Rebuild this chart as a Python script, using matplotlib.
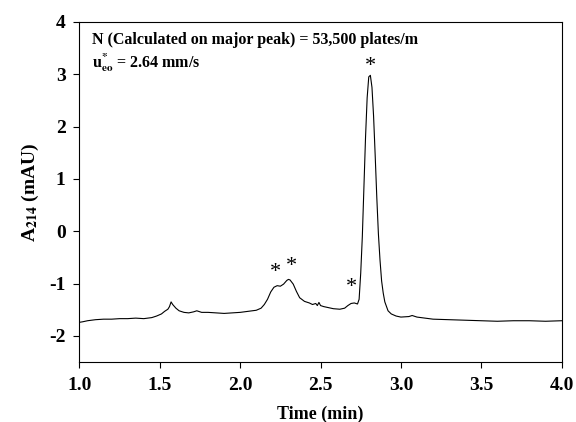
import matplotlib
matplotlib.use('Agg')
import matplotlib.pyplot as plt

# electropherogram trace
time_min = [1.00, 1.02, 1.05, 1.10, 1.15, 1.20, 1.25, 1.30, 1.35, 1.40, 1.45, 1.48,
            1.51, 1.53, 1.55, 1.56, 1.57, 1.58, 1.60, 1.62, 1.65, 1.68, 1.71, 1.73,
            1.76, 1.80, 1.85, 1.90, 1.95, 2.00, 2.05, 2.10, 2.13, 2.15, 2.17, 2.19,
            2.21, 2.23, 2.25, 2.27, 2.29, 2.30, 2.31, 2.33, 2.35, 2.37, 2.40, 2.43,
            2.45, 2.47, 2.48, 2.49, 2.50, 2.52, 2.55, 2.58, 2.62, 2.65, 2.67, 2.69,
            2.71, 2.73, 2.74, 2.75, 2.76, 2.77, 2.78, 2.79, 2.80, 2.81, 2.82, 2.83,
            2.84, 2.85, 2.86, 2.87, 2.88, 2.89, 2.90, 2.92, 2.94, 2.97, 3.00, 3.05,
            3.07, 3.10, 3.15, 3.20, 3.30, 3.40, 3.50, 3.60, 3.70, 3.80, 3.90, 4.00]
absorbance = [-1.74, -1.73, -1.71, -1.69, -1.68, -1.68, -1.67, -1.67, -1.66, -1.67, -1.65, -1.62,
              -1.58, -1.53, -1.49, -1.44, -1.35, -1.40, -1.47, -1.52, -1.55, -1.56, -1.54, -1.52,
              -1.55, -1.55, -1.56, -1.57, -1.56, -1.55, -1.53, -1.51, -1.47, -1.40, -1.30, -1.16,
              -1.07, -1.04, -1.05, -1.01, -0.94, -0.92, -0.93, -1.01, -1.15, -1.27, -1.34, -1.37,
              -1.40, -1.38, -1.42, -1.36, -1.42, -1.44, -1.46, -1.48, -1.49, -1.47, -1.42, -1.38,
              -1.37, -1.39, -1.30, -0.80, -0.10, 0.85, 1.80, 2.55, 2.95, 2.98, 2.75, 2.20,
              1.45, 0.65, -0.05, -0.55, -0.95, -1.18, -1.35, -1.52, -1.58, -1.62, -1.64, -1.63,
              -1.61, -1.64, -1.66, -1.68, -1.69, -1.70, -1.71, -1.72, -1.71, -1.71, -1.72, -1.71]

# asterisk marks over the peaks
star_x = [2.22, 2.32, 2.69, 2.81]
star_y = [-0.78, -0.68, -1.08, 3.15]

plt.rcParams['font.family'] = 'Liberation Serif'
plt.rcParams['font.weight'] = 'bold'
plt.rcParams['mathtext.fontset'] = 'stix'
plt.rcParams['axes.unicode_minus'] = False

fig = plt.figure(figsize=(5.76, 4.22), dpi=100)
ax = fig.add_axes([0.138, 0.142, 0.837, 0.806])

ax.plot(time_min, absorbance, color='black', lw=0.8)
for sx, sy in zip(star_x, star_y):
    ax.text(sx, sy, '*', ha='center', va='center', fontsize=16, fontweight='normal')

ax.set_xlim(1.0, 4.0)
ax.set_ylim(-2.5, 4)
ax.set_xticks([1.0, 1.5, 2.0, 2.5, 3.0, 3.5, 4.0])
ax.set_xticklabels(['1.0', '1.5', '2.0', '2.5', '3.0', '3.5', '4.0'])
ax.set_yticks([-2, -1, 0, 1, 2, 3, 4])
ax.tick_params(direction='out', length=4, width=0.8, labelsize=14, top=False, right=False)
ax.tick_params(axis='x', pad=7)
ax.tick_params(axis='y', pad=6)
for lab in ax.get_xticklabels() + ax.get_yticklabels():
    lab.set_fontweight('bold')
for sp in ax.spines.values():
    sp.set_linewidth(0.8)

ax.set_xlabel('Time (min)', fontsize=13, fontweight='bold', labelpad=8)
ax.set_ylabel(r'A$_{\mathbf{214}}$ (mAU)', fontsize=14, fontweight='bold', labelpad=6)

ax.text(0.025, 0.97, 'N (Calculated on major peak) = 53,500 plates/m',
        transform=ax.transAxes, fontsize=11.5, fontweight='bold', va='top')
ax.text(0.025, 0.915, r'u$^{*}_{\mathbf{eo}}$ = 2.64 mm/s',
        transform=ax.transAxes, fontsize=11.5, fontweight='bold', va='top')

plt.savefig('out.png', dpi=100)
